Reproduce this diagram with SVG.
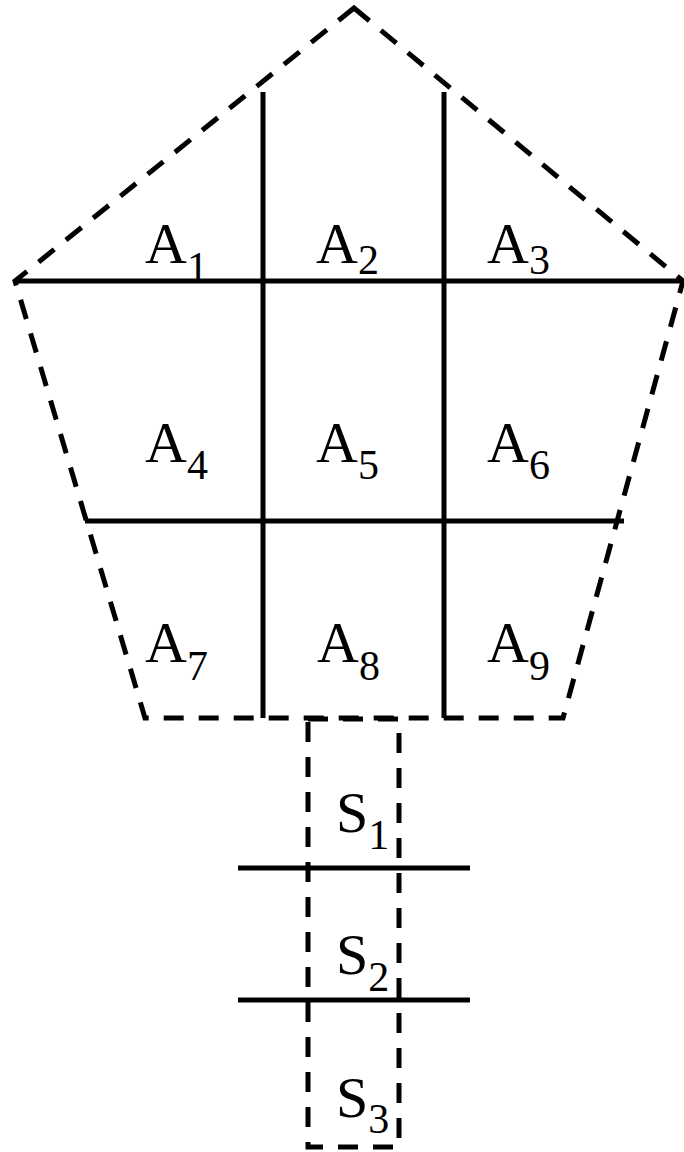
<svg xmlns="http://www.w3.org/2000/svg" width="684" height="1152" viewBox="0 0 684 1152">
<style>
.dash{fill:none;stroke:#000;stroke-width:5;stroke-dasharray:20 15;stroke-linejoin:miter}
.solid{fill:none;stroke:#000;stroke-width:5}
text{font-family:'Liberation Serif','Times New Roman',Times,serif;font-size:58px;fill:#000}
.sub{font-size:42px}
</style>
<rect width="684" height="1152" fill="#fff"/>
<g id="outline">
<polygon class="dash" points="354,8 683,281 563,718 145,718 15,281"/>
<rect class="dash" x="308" y="719" width="91" height="428"/>
</g>
<g id="connectors">
<line class="solid" x1="15" y1="281" x2="683" y2="281"/>
<line class="solid" x1="85" y1="521" x2="624" y2="521"/>
<line class="solid" x1="263" y1="92" x2="263" y2="718"/>
<line class="solid" x1="444" y1="92" x2="444" y2="718"/>
<line class="solid" x1="238" y1="868" x2="470" y2="868"/>
<line class="solid" x1="238" y1="1000" x2="470" y2="1000"/>
</g>
<g id="A1"><text x="145" y="263" font-family="Liberation Serif">A<tspan class="sub" dy="18">1</tspan></text></g>
<g id="A2"><text x="316" y="263" font-family="Liberation Serif">A<tspan class="sub" dy="11">2</tspan></text></g>
<g id="A3"><text x="487" y="263" font-family="Liberation Serif">A<tspan class="sub" dy="11">3</tspan></text></g>
<g id="A4"><text x="145" y="462" font-family="Liberation Serif">A<tspan class="sub" dy="17">4</tspan></text></g>
<g id="A5"><text x="316" y="462" font-family="Liberation Serif">A<tspan class="sub" dy="17">5</tspan></text></g>
<g id="A6"><text x="487" y="462" font-family="Liberation Serif">A<tspan class="sub" dy="17">6</tspan></text></g>
<g id="A7"><text x="145" y="662" font-family="Liberation Serif">A<tspan class="sub" dy="18">7</tspan></text></g>
<g id="A8"><text x="317" y="662" font-family="Liberation Serif">A<tspan class="sub" dy="18">8</tspan></text></g>
<g id="A9"><text x="487" y="662" font-family="Liberation Serif">A<tspan class="sub" dy="18">9</tspan></text></g>
<g id="S1"><text x="336" y="832" font-family="Liberation Serif">S<tspan class="sub" dy="17">1</tspan></text></g>
<g id="S2"><text x="336" y="974" font-family="Liberation Serif">S<tspan class="sub" dy="17">2</tspan></text></g>
<g id="S3"><text x="336" y="1117" font-family="Liberation Serif">S<tspan class="sub" dy="16">3</tspan></text></g>
</svg>
